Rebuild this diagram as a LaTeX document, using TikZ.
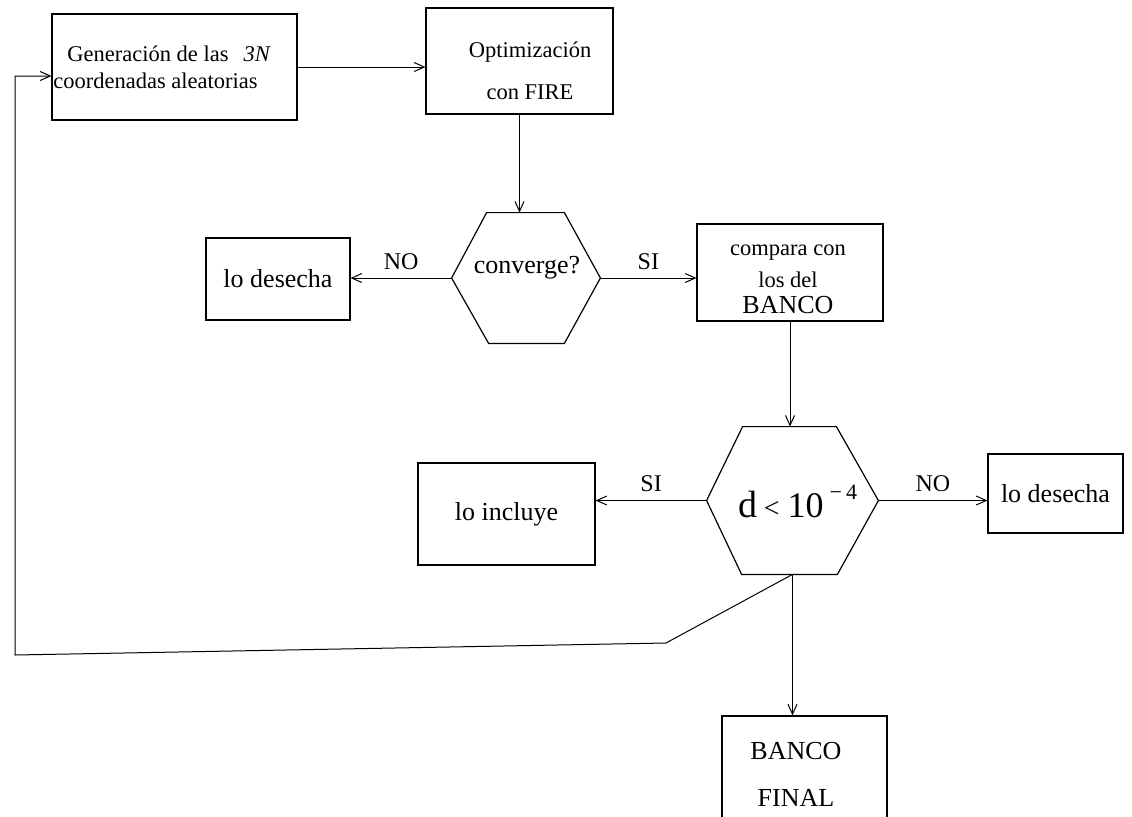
\documentclass[tikz,border=0pt]{standalone}
\usepackage{fontspec}
\setmainfont{Liberation Serif}
\usetikzlibrary{arrows.meta, positioning, calc}

\tikzset{
    box/.style={draw, line width=0.6pt, inner sep=0pt},
    txt/.style={font=\fontsize{13}{15}\selectfont},
    lbl/.style={above=2pt, inner sep=2pt, font=\fontsize{12}{14}\selectfont},
    flow/.style={-{Straight Barb[length=5pt,width=4.5pt]}, line width=0.5pt},
    hexline/.style={line width=0.6pt}
}

\begin{document}
\begin{tikzpicture}[x=0.5pt, y=-0.5pt]
    \useasboundingbox (0,0) rectangle (1132,816);
    \clip (0,0) rectangle (1132,816);

    % Boxes
    \node[box, minimum width=122.5pt, minimum height=53pt] (gen) at (174.5,67) {};
    \node[anchor=west, align=left, inner sep=0pt, font=\fontsize{11.25}{13.5}\selectfont] (gentxt) at (53,67)
        {\hspace{7pt}Generación de las\hspace{7.5pt}\textit{3N}\\coordenadas aleatorias};

    \node[box, minimum width=93.5pt, minimum height=53pt] (fire) at (519.5,61) {};
    \node[align=center, inner sep=0pt, font=\fontsize{11.25}{21}\selectfont] (firetxt) at (530,71)
        {Optimización\\con FIRE};

    \node[box, minimum width=93pt, minimum height=48.5pt] (comp) at (790,272.5) {};
    \node[align=center, inner sep=0pt, font=\fontsize{11.25}{16}\selectfont] (comptxt) at (788,279)
        {compara con\\los del\\[-3pt]{\fontsize{13}{13}\selectfont BANCO}};

    \node[box, txt, minimum width=72pt, minimum height=41pt] (des1) at (278,279) {lo desecha};
    \node[box, txt, minimum width=88.5pt, minimum height=51pt] (incl) at (506.5,514) {lo incluye};
    \node[box, txt, minimum width=67.5pt, minimum height=39.5pt] (des2) at (1055.5,493.5) {lo desecha};

    \node[box, minimum width=82.5pt, minimum height=70pt] (final) at (804.5,786) {};
    \node[align=center, inner sep=0pt, font=\fontsize{13}{23.5}\selectfont] (finaltxt) at (796,774)
        {BANCO\\FINAL};

    % Decisions
    \node[inner sep=0pt, minimum width=74pt, minimum height=65pt] (conv) at (526,278) {};
    \draw[hexline] (conv.west) -- ($(conv.north west)+(35,0)$) -- ($(conv.north east)-(36,0)$)
        -- (conv.east) -- ($(conv.south east)-(36,0)$) -- ($(conv.south west)+(37,0)$) -- cycle;
    \node[txt, anchor=base, inner sep=0pt] (convtxt) at (527,273) {converge?};

    \node[inner sep=0pt, minimum width=85.5pt, minimum height=73.5pt] (dtest) at (792.5,500.5) {};
    \draw[hexline] (dtest.west) -- ($(dtest.north west)+(36,0)$) -- ($(dtest.north east)-(42,0)$)
        -- (dtest.east) -- ($(dtest.south east)-(41,0)$) -- ($(dtest.south west)+(35,0)$) -- cycle;
    \node[anchor=base, inner sep=0pt] (dtxt) at (798,517)
        {{\fontsize{19}{19}\selectfont d}\hspace{3pt}{\fontsize{14}{14}\selectfont <}\hspace{4pt}{\fontsize{18}{18}\selectfont 10}\hspace{3pt}\raisebox{9pt}{\fontsize{11}{11}\selectfont −\hspace{2pt}4}};

    % Arrows
    \draw[flow] (gen.east) -- (gen.east -| fire.west);
    \draw[flow] (fire.south) -- (fire.south |- conv.north);
    \draw[flow] (conv.west) -- node[lbl] (no1) {NO} (conv.west -| des1.east);
    \draw[flow] (conv.east) -- node[lbl] (si1) {SI} (conv.east -| comp.west);
    \draw[flow] (comp.south) -- (comp.south |- dtest.north);
    \draw[flow] (dtest.west) -- node[lbl] (si2) {SI} (dtest.west -| incl.east);
    \draw[flow] (dtest.east) -- node[lbl] (no2) {NO} (dtest.east -| des2.west);
    \draw[flow] (dtest.south) -- (dtest.south |- final.north);

    % Back to the start
    \coordinate (bend) at (666,643);
    \coordinate (corner) at (15,655);
    \coordinate (entry) at (15,76);
    \draw[flow] (dtest.south) -- (bend) -- (corner) -- (entry) -- (entry -| gen.west);
\end{tikzpicture}
\end{document}
